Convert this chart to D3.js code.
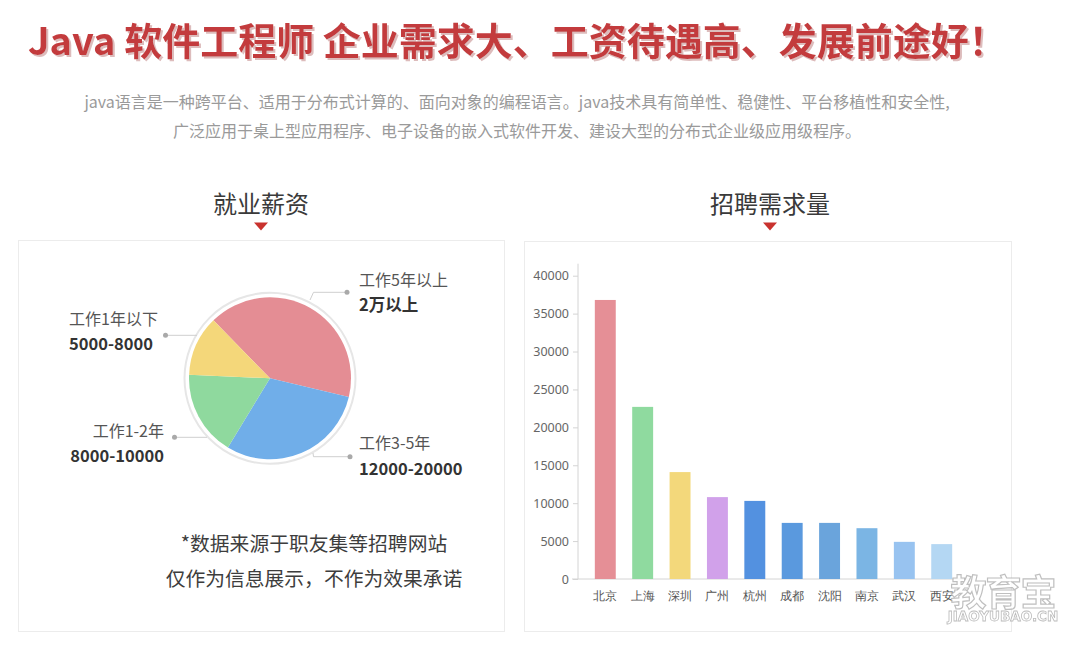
<!DOCTYPE html>
<html>
<head>
<meta charset="utf-8">
<script src="https://cdn.jsdelivr.net/npm/d3@7"></script>
<style>
  html, body { margin: 0; padding: 0; background: #fff; }
  svg { display: block; font-family: "Noto Sans CJK SC", "Noto Sans", sans-serif; }
</style>
</head>
<body>
<svg id="chart" width="1079" height="648"></svg>
<script>
// ---------- data ----------
const pageTitle = "Java 软件工程师 企业需求大、工资待遇高、发展前途好！";
const introLines = [
  "java语言是一种跨平台、适用于分布式计算的、面向对象的编程语言。java技术具有简单性、稳健性、平台移植性和安全性,",
  "广泛应用于桌上型应用程序、电子设备的嵌入式软件开发、建设大型的分布式企业级应用级程序。"
];
const salaryTitle = "就业薪资";
const demandTitle = "招聘需求量";

const pieLabels = ["工作5年以上", "工作3-5年", "工作1-2年", "工作1年以下"];
const pieRanges = ["2万以上", "12000-20000", "8000-10000", "5000-8000"];
const pieShares = [41, 30, 17, 12];
const pieColors = ["#e48d94", "#70aee9", "#8fd99e", "#f4d77a"];

const cities = ["北京", "上海", "深圳", "广州", "杭州", "成都", "沈阳", "南京", "武汉", "西安"];
const demand = [36800, 22700, 14100, 10800, 10300, 7400, 7400, 6700, 4900, 4600];
const barColors = ["#e58f96", "#8fda9f", "#f3d87b", "#d1a1ea", "#5391e0", "#5a99de", "#6aa4dc", "#7bb5e4", "#98c3f0", "#b4d7f3"];
const yTicks = [0, 5000, 10000, 15000, 20000, 25000, 30000, 35000, 40000];

const footnote = ["*数据来源于职友集等招聘网站", "仅作为信息展示，不作为效果承诺"];

// ---------- drawing ----------
const svg = d3.select("#chart");
const defs = svg.append("defs");
const f = defs.append("filter").attr("id", "tshadow").attr("x", "-5%").attr("y", "-20%").attr("width", "110%").attr("height", "150%");
f.append("feDropShadow").attr("dx", 2).attr("dy", 2).attr("stdDeviation", 0.6).attr("flood-color", "#d9b5b5").attr("flood-opacity", 0.9);

// title
svg.append("text")
  .attr("x", 28).attr("y", 55)
  .attr("fill", "#c33a3c").attr("font-size", 38).attr("font-weight", 700)
  .attr("filter", "url(#tshadow)")
  .text(pageTitle);

// intro
svg.selectAll("text.intro").data(introLines).join("text")
  .attr("class", "intro")
  .attr("x", 517).attr("y", (d, i) => 108 + i * 29)
  .attr("text-anchor", "middle")
  .attr("fill", "#9a9a9a").attr("font-size", 16)
  .text(d => d);

// panels
svg.append("rect").attr("x", 18.5).attr("y", 240.5).attr("width", 486).attr("height", 391)
  .attr("fill", "#fff").attr("stroke", "#ececec");
svg.append("rect").attr("x", 524.5).attr("y", 241.5).attr("width", 487).attr("height", 390)
  .attr("fill", "#fff").attr("stroke", "#ececec");

// section headers
function header(cx, txt) {
  svg.append("text").attr("x", cx).attr("y", 213)
    .attr("text-anchor", "middle").attr("fill", "#3a3a3a").attr("font-size", 24)
    .text(txt);
  svg.append("path")
    .attr("d", `M${cx - 7},222.5 L${cx + 7},222.5 L${cx},230.5 Z`)
    .attr("fill", "#c9322e");
}
header(261, salaryTitle);
header(770, demandTitle);

// ---------- pie ----------
const pcx = 270, pcy = 378.3, pr = 81;
const pieG = svg.append("g").attr("transform", `translate(${pcx},${pcy})`);
pieG.append("circle").attr("r", 85.5).attr("fill", "#fff").attr("stroke", "#e6e6e6").attr("stroke-width", 2);
const pie = d3.pie().sort(null).value(d => d)
  .startAngle(-44.3 * Math.PI / 180).endAngle((360 - 44.3) * Math.PI / 180);
const arcs = pie(pieShares);
const arc = d3.arc().innerRadius(0).outerRadius(pr);
pieG.selectAll("path.slice").data(arcs).join("path")
  .attr("class", "slice")
  .attr("d", arc)
  .attr("fill", (d, i) => pieColors[i]);

// label layout (annotation placement)
const labelLayout = [
  { line: [[310, 300], [313.5, 292.3], [347, 292.3]], tx: 359, anchor: "start", y1: 286, y2: 311 },
  { line: [[313, 453], [313.5, 456.7], [350, 456.7]], tx: 359, anchor: "start", y1: 449, y2: 475 },
  { line: [[207, 437.3], [174.5, 437.3]], tx: 164, anchor: "end", y1: 437, y2: 462 },
  { line: [[197, 335.3], [165.5, 335.3]], tx: 69, anchor: "start", y1: 325, y2: 350 }
];
const lblG = svg.append("g");
labelLayout.forEach((L, i) => {
  lblG.append("path").attr("d", d3.line()(L.line)).attr("fill", "none")
    .attr("stroke", "#cfcfcf").attr("stroke-width", 1);
  const end = L.line[L.line.length - 1];
  lblG.append("circle").attr("cx", end[0]).attr("cy", end[1]).attr("r", 2.5).attr("fill", "#a9a9a9");
  lblG.append("text").attr("x", L.tx).attr("y", L.y1).attr("text-anchor", L.anchor)
    .attr("fill", "#555").attr("font-size", 16).text(pieLabels[i]);
  lblG.append("text").attr("x", L.tx).attr("y", L.y2).attr("text-anchor", L.anchor)
    .attr("fill", "#333").attr("font-size", 16.5).attr("font-weight", 700).text(pieRanges[i]);
});

// footnote
svg.selectAll("text.foot").data(footnote).join("text")
  .attr("class", "foot")
  .attr("x", 314).attr("y", (d, i) => 551 + i * 35)
  .attr("text-anchor", "middle").attr("fill", "#3d3d3d").attr("font-size", 19.8)
  .text(d => d);

// ---------- bar chart ----------
const x = d3.scaleBand().domain(cities).range([578, 969]).paddingInner(0.44).paddingOuter(0.45);
const y = d3.scaleLinear().domain([0, 40000]).range([579, 275.7]);

const yAxis = svg.append("g").attr("transform", "translate(578,0)")
  .call(d3.axisLeft(y).tickValues(yTicks).tickSize(5).tickPadding(4).tickFormat(d3.format("d")));
yAxis.select(".domain").attr("d", `M0,${y(40000) - 12}V${y(0)}`).attr("stroke", "#d4d4d4");
yAxis.selectAll(".tick line").attr("stroke", "#d4d4d4");
yAxis.selectAll(".tick text").attr("fill", "#666").attr("font-size", 12.5)
  .attr("font-family", "'Noto Sans', 'Noto Sans CJK SC', sans-serif");

const xAxis = svg.append("g").attr("transform", `translate(0,${y(0)})`)
  .call(d3.axisBottom(x).tickSize(0).tickPadding(12));
xAxis.select(".domain").attr("d", `M572,0H969`).attr("stroke", "#d4d4d4");
xAxis.selectAll(".tick text").attr("fill", "#555").attr("font-size", 12);

svg.append("g").selectAll("rect.bar").data(demand).join("rect")
  .attr("class", "bar")
  .attr("x", (d, i) => x(cities[i]))
  .attr("y", d => y(d))
  .attr("width", x.bandwidth())
  .attr("height", d => y(0) - y(d))
  .attr("fill", (d, i) => barColors[i]);

// watermark
const wm = svg.append("g").attr("opacity", 0.85);
wm.append("text").attr("x", 1003).attr("y", 606).attr("text-anchor", "middle")
  .attr("font-size", 36).attr("font-weight", 700).attr("fill", "#fff")
  .attr("stroke", "#b5b5b5").attr("stroke-width", 1.2).attr("letter-spacing", -1)
  .text("教育宝");
wm.append("text").attr("x", 1003).attr("y", 621).attr("text-anchor", "middle")
  .attr("font-size", 13.5).attr("font-weight", 700).attr("fill", "#fff")
  .attr("stroke", "#b0b0b0").attr("stroke-width", 0.8)
  .attr("font-family", "'DejaVu Sans', sans-serif")
  .text("JIAOYUBAO.CN");
</script>
</body>
</html>
